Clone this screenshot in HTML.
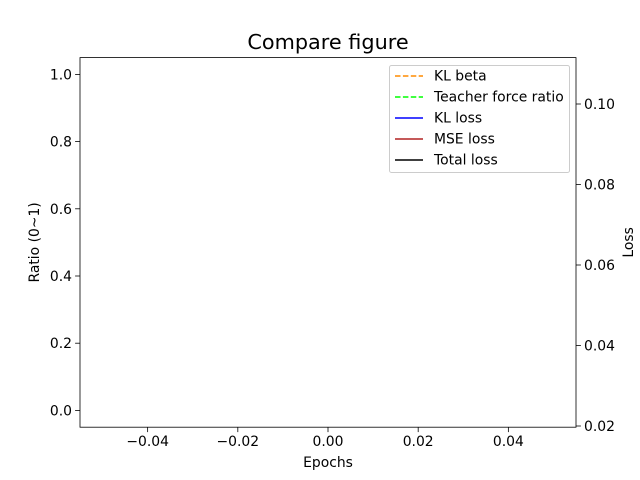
<!DOCTYPE html>
<html><head><meta charset="utf-8"><style>
body{margin:0;background:#fff;}
svg{display:block;font-family:"DejaVu Sans","Liberation Sans",sans-serif;}
</style></head><body>
<svg id="chart" width="640" height="480" xmlns="http://www.w3.org/2000/svg">
<rect width="640" height="480" fill="#fff"/>
<text x="328" y="49" font-size="20.8" text-anchor="middle" fill="#000">Compare figure</text>
<g id="axes"></g>
<text x="328" y="467" font-size="13.9" text-anchor="middle">Epochs</text>
<text transform="translate(39,242.4) rotate(-90)" font-size="13.9" text-anchor="middle">Ratio (0~1)</text>
<text transform="translate(633,242.4) rotate(-90)" font-size="13.9" text-anchor="middle">Loss</text>
</svg>
<script>
const xTicks=[-0.04,-0.02,0.00,0.02,0.04];
const xTickLabels=["−0.04","−0.02","0.00","0.02","0.04"];
const leftTicks=[0.0,0.2,0.4,0.6,0.8,1.0];
const leftTickLabels=["0.0","0.2","0.4","0.6","0.8","1.0"];
const rightTicks=[0.02,0.04,0.06,0.08,0.10];
const rightTickLabels=["0.02","0.04","0.06","0.08","0.10"];
const seriesNames=["KL beta","Teacher force ratio","KL loss","MSE loss","Total loss"];
const epochs=[];
const klBeta=[];
const tfRatio=[];
const klLoss=[];
const mseLoss=[];
const totalLoss=[];

const L=80,R=576,T=57.6,B=427.2;
const xs=v=>L+(v+0.055)/0.11*(R-L);
const yl=v=>B-(v+0.05)/1.1*(B-T);
const yr=v=>426-(v-0.02)*4025;
const NS="http://www.w3.org/2000/svg";
const g=document.getElementById('axes');
function mk(t,a,p){const e=document.createElementNS(NS,t);for(const k in a)e.setAttribute(k,a[k]);(p||g).appendChild(e);return e;}

xTicks.forEach((v,i)=>{
  const t=mk('line',{x1:xs(v),x2:xs(v),y1:B,y2:B+4.9,stroke:'#000','stroke-width':0.8});
  
  
  const l=mk('text',{x:xs(v),y:B+19,'font-size':13.9,'text-anchor':'middle'});l.textContent=xTickLabels[i];
  
  
});
leftTicks.forEach((v,i)=>{
  const t=mk('line',{x1:L-4.9,x2:L,y1:yl(v),y2:yl(v),stroke:'#000','stroke-width':0.8});
  
  
  const l=mk('text',{x:L-8,y:yl(v)+5,'font-size':13.9,'text-anchor':'end'});l.textContent=leftTickLabels[i];
  
  
});
rightTicks.forEach((v,i)=>{
  const t=mk('line',{x1:R,x2:R+4.9,y1:yr(v),y2:yr(v),stroke:'#000','stroke-width':0.8});
  
  
  const l=mk('text',{x:R+8,y:yr(v)+5,'font-size':13.9,'text-anchor':'start'});l.textContent=rightTickLabels[i];
  
  
});

const colors=['#ff8c00','#00ff00','#0000ff','#b22222','#000000'];
const data=[klBeta,tfRatio,klLoss,mseLoss,totalLoss];
const scales=[yl,yl,yr,yr,yr];
data.forEach((arr,i)=>{
  if(!arr.length)return;
  const p=mk('polyline',{points:arr.map((v,j)=>xs(epochs[j])+','+scales[i](v)).join(' '),fill:'none',stroke:colors[i],'stroke-width':1.5,'stroke-dasharray':i<2?'5.5,2.4':'none'});
  
  
});

const frame=mk('rect',{x:L,y:T,width:R-L,height:B-T,fill:'none',stroke:'#000','stroke-width':0.8});



const lg=mk('g',{});


mk('rect',{x:389.5,y:65.5,width:180,height:107,rx:2,fill:'#fff','fill-opacity':0.8,stroke:'#ccc','stroke-width':1},lg);
seriesNames.forEach((n,i)=>{
  const y=76+i*21;
  const ln=mk('line',{x1:395,x2:423,y1:y,y2:y,stroke:colors[i],'stroke-width':1.5,'stroke-dasharray':i<2?'5.5,2.4':'none'},lg);
  
  
  const t=mk('text',{x:434,y:y+4.7,'font-size':13.9},lg);t.textContent=n;
  
  
});
</script>
</body></html>
